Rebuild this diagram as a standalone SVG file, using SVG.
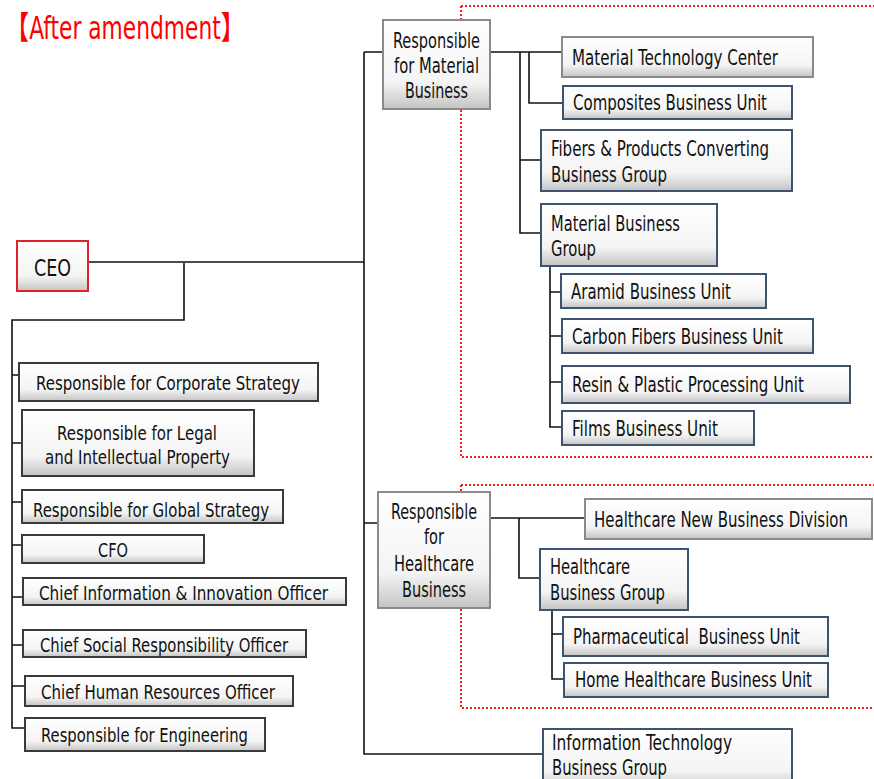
<svg xmlns="http://www.w3.org/2000/svg" width="874" height="779" viewBox="0 0 874 779">
<defs>
<linearGradient id="g" x1="0" y1="0" x2="0" y2="1">
<stop offset="0" stop-color="#ffffff"/>
<stop offset="0.7" stop-color="#f4f4f4"/>
<stop offset="1" stop-color="#c4c4c4"/>
</linearGradient>
</defs>
<style>
.box{fill:url(#g);stroke-width:2}
.gray{stroke:#8a8a8a}
.blue{stroke:#3e5372}
.dark{stroke:#3a3a3a}
.red{stroke:#e0202a}
text{font-family:"DejaVu Sans Condensed","DejaVu Sans","Liberation Sans",sans-serif;fill:#111}
.r{font-size:21.5px}
.l{font-size:20px}
.conn{fill:none;stroke:#111;stroke-width:1.6}
.dot{fill:none;stroke:#ff1a1a;stroke-width:2;stroke-dasharray:2 2}
</style>
<rect width="874" height="779" fill="#ffffff"/>
<text x="5" y="39" font-size="32" textLength="240" lengthAdjust="spacingAndGlyphs" style="fill:#ff0000;font-family:'DejaVu Sans Condensed','DejaVu Sans','Noto Sans CJK JP',sans-serif">【After amendment】</text>
<g id="regions">
<path class="dot" d="M461 6 V457 H874 M461 6 H874"/>
<path class="dot" d="M461 485 V708 H874 M461 485 H874"/>
</g>
<g id="connectors">
<path class="conn" d="M88 262 H364 M364 52 V754 H543 M364 52 H383 M364 523 H378"/>
<path class="conn" d="M184 263 V320 H12 V728 H25 M12 375 H19 M12 443 H22 M12 502 H22 M12 545 H22 M12 597 H23 M12 645 H23 M12 686 H25"/>
<path class="conn" d="M490 52 H562 M520 52 V233 H541 M520 160 H541 M529 52 V103 H563"/>
<path class="conn" d="M550 266 V427 H562 M550 292 H561 M550 336 H562 M550 382 H562"/>
<path class="conn" d="M490 518 H585 M519 518 V578 H540 M552 610 V679 H564 M552 634 H563"/>
</g>
<g id="ceo"><rect class="box red" x="17" y="241" width="71" height="50"/><text x="34" y="276" font-size="23" textLength="37" lengthAdjust="spacingAndGlyphs">CEO</text></g>
<g id="corp"><rect class="box dark" x="19" y="363" width="299" height="38"/><text class="l" x="36" y="390" textLength="264" lengthAdjust="spacingAndGlyphs">Responsible for Corporate Strategy</text></g>
<g id="legal"><rect class="box dark" x="22" y="410" width="232" height="66"/><text class="l" x="57" y="440" textLength="160" lengthAdjust="spacingAndGlyphs">Responsible for Legal</text><text class="l" x="45" y="464" textLength="185" lengthAdjust="spacingAndGlyphs">and Intellectual Property</text></g>
<g id="global"><rect class="box dark" x="22" y="490" width="261" height="33"/><text class="l" x="33" y="517" textLength="236" lengthAdjust="spacingAndGlyphs">Responsible for Global Strategy</text></g>
<g id="cfo"><rect class="box dark" x="22" y="535" width="182" height="28"/><text class="l" x="98" y="557" textLength="30" lengthAdjust="spacingAndGlyphs">CFO</text></g>
<g id="cio"><rect class="box dark" x="23" y="578" width="323" height="27"/><text class="l" x="39" y="600" textLength="289" lengthAdjust="spacingAndGlyphs">Chief Information &amp; Innovation Officer</text></g>
<g id="csro"><rect class="box dark" x="23" y="630" width="283" height="27"/><text class="l" x="40" y="652" textLength="248" lengthAdjust="spacingAndGlyphs">Chief Social Responsibility Officer</text></g>
<g id="chro"><rect class="box dark" x="25" y="676" width="268" height="30"/><text class="l" x="41" y="699" textLength="234" lengthAdjust="spacingAndGlyphs">Chief Human Resources Officer</text></g>
<g id="eng"><rect class="box dark" x="25" y="718" width="240" height="33"/><text class="l" x="41" y="742" textLength="207" lengthAdjust="spacingAndGlyphs">Responsible for Engineering</text></g>
<g id="material"><rect class="box gray" x="383" y="20" width="107" height="89"/><text class="r" x="393" y="48" textLength="87" lengthAdjust="spacingAndGlyphs">Responsible</text><text class="r" x="394" y="73" textLength="85" lengthAdjust="spacingAndGlyphs">for Material</text><text class="r" x="405" y="98" textLength="63" lengthAdjust="spacingAndGlyphs">Business</text></g>
<g id="mtc"><rect class="box gray" x="562" y="37" width="251" height="40"/><text class="r" x="572" y="65" textLength="206" lengthAdjust="spacingAndGlyphs">Material Technology Center</text></g>
<g id="composites"><rect class="box blue" x="563" y="86" width="229" height="33"/><text class="r" x="573" y="110" textLength="194" lengthAdjust="spacingAndGlyphs">Composites Business Unit</text></g>
<g id="fibers"><rect class="box blue" x="541" y="130" width="251" height="61"/><text class="r" x="551" y="156" textLength="218" lengthAdjust="spacingAndGlyphs">Fibers &amp; Products Converting</text><text class="r" x="551" y="182" textLength="116" lengthAdjust="spacingAndGlyphs">Business Group</text></g>
<g id="mbg"><rect class="box blue" x="541" y="204" width="176" height="62"/><text class="r" x="551" y="231" textLength="129" lengthAdjust="spacingAndGlyphs">Material Business</text><text class="r" x="551" y="256" textLength="45" lengthAdjust="spacingAndGlyphs">Group</text></g>
<g id="aramid"><rect class="box blue" x="561" y="274" width="205" height="34"/><text class="r" x="571" y="299" textLength="160" lengthAdjust="spacingAndGlyphs">Aramid Business Unit</text></g>
<g id="carbon"><rect class="box blue" x="562" y="319" width="251" height="34"/><text class="r" x="572" y="344" textLength="211" lengthAdjust="spacingAndGlyphs">Carbon Fibers Business Unit</text></g>
<g id="resin"><rect class="box blue" x="562" y="366" width="288" height="37"/><text class="r" x="572" y="392" textLength="232" lengthAdjust="spacingAndGlyphs">Resin &amp; Plastic Processing Unit</text></g>
<g id="films"><rect class="box blue" x="562" y="411" width="192" height="34"/><text class="r" x="572" y="436" textLength="146" lengthAdjust="spacingAndGlyphs">Films Business Unit</text></g>
<g id="healthcare"><rect class="box gray" x="378" y="492" width="112" height="116"/><text class="r" x="391" y="519" textLength="86" lengthAdjust="spacingAndGlyphs">Responsible</text><text class="r" x="424" y="544" textLength="20" lengthAdjust="spacingAndGlyphs">for</text><text class="r" x="394" y="571" textLength="80" lengthAdjust="spacingAndGlyphs">Healthcare</text><text class="r" x="402" y="597" textLength="64" lengthAdjust="spacingAndGlyphs">Business</text></g>
<g id="hnd"><rect class="box gray" x="585" y="499" width="287" height="40"/><text class="r" x="594" y="527" textLength="254" lengthAdjust="spacingAndGlyphs">Healthcare New Business Division</text></g>
<g id="hbg"><rect class="box blue" x="540" y="549" width="148" height="61"/><text class="r" x="550" y="574" textLength="80" lengthAdjust="spacingAndGlyphs">Healthcare</text><text class="r" x="550" y="600" textLength="115" lengthAdjust="spacingAndGlyphs">Business Group</text></g>
<g id="pharma"><rect class="box blue" x="563" y="617" width="265" height="39"/><text class="r" x="573" y="644" textLength="227" lengthAdjust="spacingAndGlyphs" xml:space="preserve">Pharmaceutical  Business Unit</text></g>
<g id="home"><rect class="box blue" x="564" y="663" width="264" height="34"/><text class="r" x="575" y="687" textLength="237" lengthAdjust="spacingAndGlyphs">Home Healthcare Business Unit</text></g>
<g id="it"><rect class="box blue" x="543" y="729" width="249" height="60"/><text class="r" x="552" y="750" textLength="180" lengthAdjust="spacingAndGlyphs">Information Technology</text><text class="r" x="552" y="775" textLength="115" lengthAdjust="spacingAndGlyphs">Business Group</text></g>
</svg>
